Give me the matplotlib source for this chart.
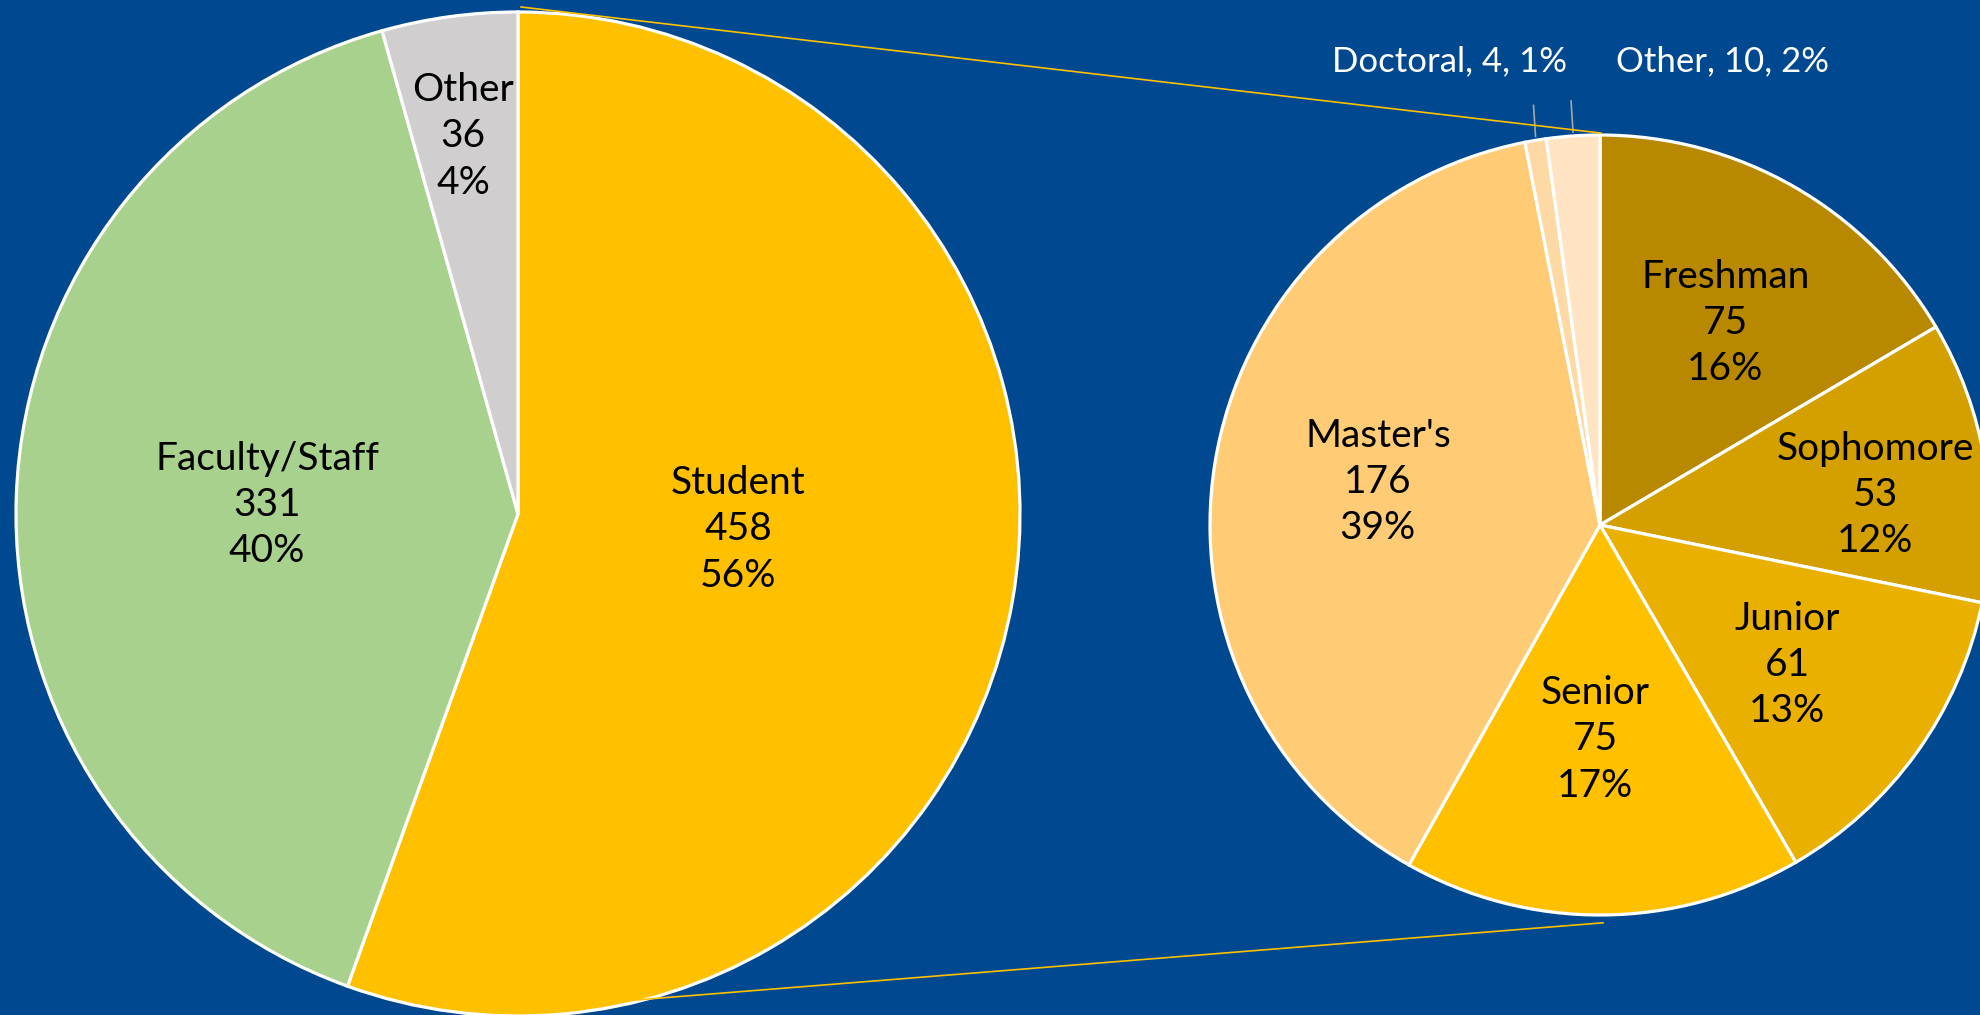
import numpy as np
import matplotlib
matplotlib.use("Agg")
import matplotlib.pyplot as plt

# primary pie
main_labels = ["Student", "Faculty/Staff", "Other"]
main_values = [458, 331, 36]
main_pcts = ["56%", "40%", "4%"]
main_colors = ["#FFC000", "#A9D18E", "#D0CECE"]

# secondary pie (breakdown of students)
sub_labels = ["Freshman", "Sophomore", "Junior", "Senior", "Master's", "Doctoral", "Other"]
sub_values = [75, 53, 61, 75, 176, 4, 10]
sub_pcts = ["16%", "12%", "13%", "17%", "39%", "1%", "2%"]
sub_colors = ["#B88800", "#D4A000", "#E9B000", "#FFC000", "#FFCC75", "#FFD9A3", "#FFE4C4"]

BG = "#004990"
W, H = 1980, 1015

fig = plt.figure(figsize=(W / 100, H / 100), dpi=100, facecolor=BG)
ax = fig.add_axes([0, 0, 1, 1])
ax.set_facecolor(BG)

c1, r1 = (518, 501), 502
c2, r2 = (1600, 490), 390

wedge_kw = dict(edgecolor="white", linewidth=2.3)
w1, _ = ax.pie(main_values, colors=main_colors, startangle=90, counterclock=False,
               center=c1, radius=r1, wedgeprops=wedge_kw)
w2, _ = ax.pie(sub_values, colors=sub_colors, startangle=90, counterclock=False,
               center=c2, radius=r2, wedgeprops=wedge_kw)

ax.set_xlim(0, W)
ax.set_ylim(0, H)
ax.set_aspect("equal")
ax.axis("off")

font = dict(family=["Lato", "DejaVu Sans"], ha="center", va="center", linespacing=1.35)

# label placement: (clockwise angle from 12 o'clock, fraction of radius)
main_pos = [(94, 0.44), (272, 0.5), (351.7, 0.76)]
sub_pos = [(31.8, 0.61), (83.8, 0.71), (126.8, 0.6), (181.3, 0.55), (280.9, 0.58)]


def polar(center, radius, ang, frac):
    a = np.radians(90 - ang)
    return center[0] + frac * radius * np.cos(a), center[1] + frac * radius * np.sin(a)


for i, (ang, frac) in enumerate(main_pos):
    x, y = polar(c1, r1, ang, frac)
    ax.text(x, y, f"{main_labels[i]}\n{main_values[i]}\n{main_pcts[i]}",
            color="black", fontsize=28, **font)

for i, (ang, frac) in enumerate(sub_pos):
    x, y = polar(c2, r2, ang, frac)
    ax.text(x, y, f"{sub_labels[i]}\n{sub_values[i]}\n{sub_pcts[i]}",
            color="black", fontsize=28, **font)

# small slices: outside labels with leader lines
for i, tx in [(5, 1449), (6, 1722)]:
    w = w2[i]
    mid = np.radians((w.theta1 + w.theta2) / 2)
    x0 = c2[0] + r2 * np.cos(mid)
    y0 = c2[1] + r2 * np.sin(mid)
    ax.plot([x0, x0 - 2], [y0 + 4, y0 + 35], color="#A6A6A6", lw=1.2)
    ax.text(tx, 954, f"{sub_labels[i]}, {sub_values[i]}, {sub_pcts[i]}",
            color="white", fontsize=25, **font)

# connector lines between the pies
ax.plot([c1[0] + 3, c2[0] + 1], [c1[1] + 1.01 * r1, c2[1] + 1.005 * r2],
        color="#FFC000", lw=1.2)
x0, y0 = polar(c1, r1, 172.5, 0.985)
ax.plot([x0, c2[0] + 3], [y0, c2[1] - 1.02 * r2], color="#FFC000", lw=1.2)

fig.savefig("out.png", dpi=100, facecolor=BG)
